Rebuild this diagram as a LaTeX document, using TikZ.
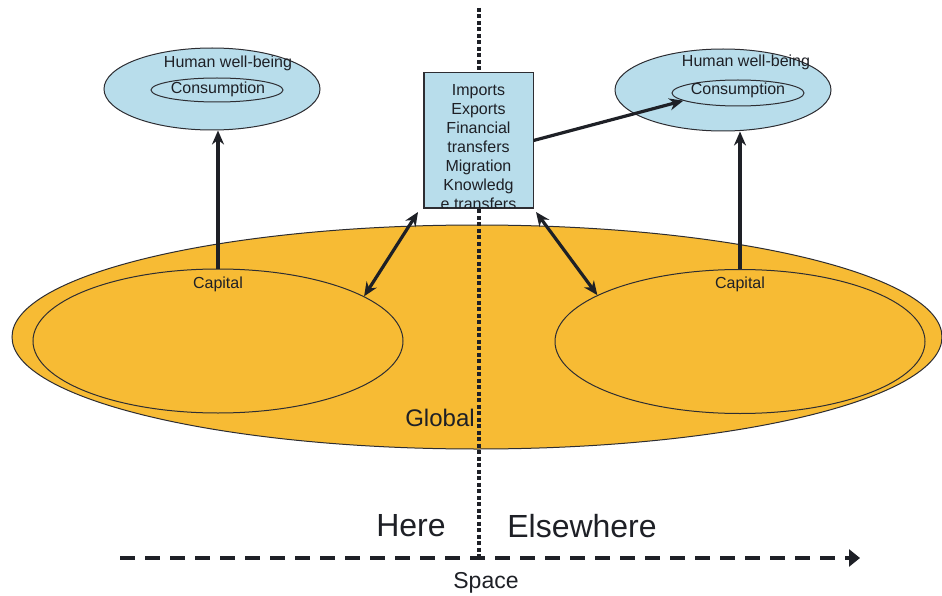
\documentclass[tikz,border=0pt]{standalone}
\usepackage{fontspec}
\setmainfont{Liberation Sans}
\usetikzlibrary{arrows.meta,shapes.geometric}
\definecolor{globalfill}{RGB}{247,187,52}
\definecolor{bluefill}{RGB}{184,221,235}
\definecolor{inkdark}{RGB}{30,32,38}
\definecolor{outline}{RGB}{45,45,50}
\tikzset{
  oval/.style={ellipse, draw=outline, line width=1pt, inner sep=0pt},
  lbl/.style={inner sep=0pt, text=inkdark, font=\fontsize{16}{18.5}\selectfont, align=center},
  flow/.style={line width=3.2pt, draw=inkdark, -{Stealth[length=14pt,width=12pt]}},
  bothflow/.style={line width=3.2pt, draw=inkdark, {Stealth[length=14pt,width=12pt]}-{Stealth[length=14pt,width=12pt]}},
  divider/.style={line width=4pt, draw=inkdark, dash pattern=on 4pt off 2.5pt},
  spacearrow/.style={line width=3.6pt, draw=inkdark, dash pattern=on 15pt off 10pt, -{Triangle[length=11pt,width=17pt]}}
}
\begin{document}
\begin{tikzpicture}[x=1pt,y=-1pt]
\useasboundingbox[fill=white] (0,0) rectangle (942,596);
% global ellipse
\node[oval, fill=globalfill, minimum width=930pt, minimum height=224pt] (global) at (477,337) {};
\node[oval, minimum width=370pt, minimum height=144pt] (capL) at (218,341) {};
\node[oval, minimum width=370pt, minimum height=144pt] (capR) at (740,341.5) {};
% divider
\coordinate (vtop) at (479,8);
\coordinate (vbot) at (479,558);
\draw[divider] (vtop) -- (vbot);
\node[lbl, font=\fontsize{24}{26}\selectfont] (globaltxt) at (440,418) {Global};
\node[lbl] (capLtxt) at (218,284) {Capital};
\node[lbl] (capRtxt) at (740,284) {Capital};
% human well-being ellipses
\node[oval, fill=bluefill, minimum width=216pt, minimum height=82pt] (hwbL) at (212,89) {};
\node[oval, minimum width=132pt, minimum height=24pt] (consL) at (217,90) {};
\node[lbl] (hwbLtxt) at (228,63) {Human well-being};
\node[lbl] (consLtxt) at (218,89) {Consumption};
\node[oval, fill=bluefill, minimum width=216pt, minimum height=82pt] (hwbR) at (723,90) {};
\node[oval, minimum width=132pt, minimum height=26pt] (consR) at (738,93) {};
\node[lbl] (hwbRtxt) at (746,62) {Human well-being};
\node[lbl] (consRtxt) at (738,90) {Consumption};
% flows box
\node[draw=outline, line width=1pt, fill=bluefill, minimum width=109pt, minimum height=135pt, inner sep=0pt] (box) at (478.5,140.5) {};
\begin{scope}
\clip (box.south west) rectangle (box.north east);
\node[lbl, anchor=north, text=inkdark, font=\fontsize{16}{19}\selectfont] (boxtxt) at (478.5,84) {Imports\\Exports\\Financial\\transfers\\Migration\\Knowledg\\e transfers};
\end{scope}
\draw[outline, line width=1pt] (box.south west) rectangle (box.north east);
% arrows
\draw[flow] (capL.north) -- (capL.north |- hwbL.south);
\draw[flow] (capR.north) -- (capR.north |- hwbR.south);
\draw[flow] (box.east) -- (consR.188);
\coordinate (bl) at (418,212);
\coordinate (br) at (536,212);
\draw[bothflow] (bl) -- (capL.17);
\draw[bothflow] (br) -- (capR.162);
% space axis
\coordinate (sL) at (120,558);
\coordinate (sR) at (860,558);
\draw[spacearrow] (sL) -- (sR);
\node[lbl, font=\fontsize{32}{34}\selectfont] (here) at (411,526) {Here};
\node[lbl, font=\fontsize{32}{34}\selectfont] (elsewhere) at (582,526) {Elsewhere};
\node[lbl, font=\fontsize{23}{25}\selectfont] (space) at (486,583) {Space};
\end{tikzpicture}
\end{document}
